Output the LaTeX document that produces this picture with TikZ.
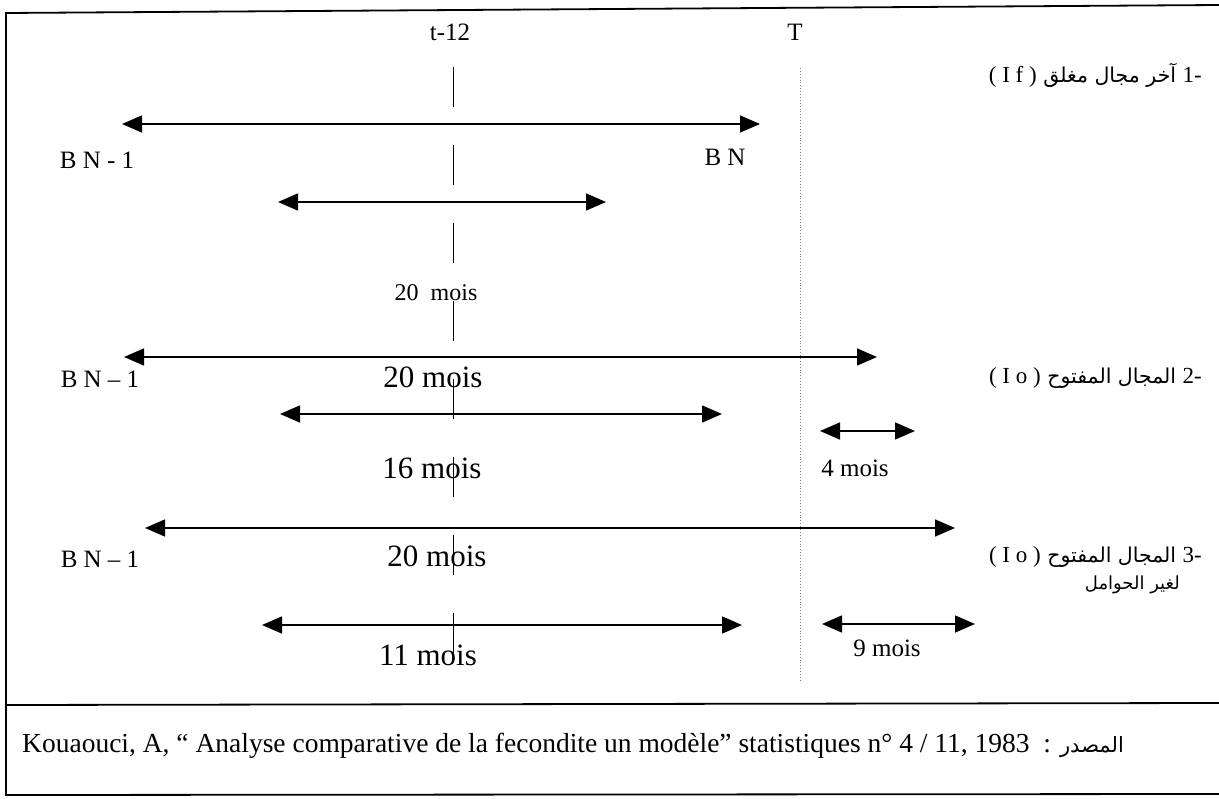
\documentclass[tikz,border=0pt]{standalone}
\usepackage{fontspec}
\setmainfont{Liberation Serif}
\newfontfamily\arabicfont[Script=Arabic]{DejaVu Sans}
\TeXXeTstate=1
\usetikzlibrary{arrows.meta}

\newcommand\lat[1]{{\rmfamily\fontsize{23}{26}\selectfont #1}}

\begin{document}
\begin{tikzpicture}[x=1pt,y=-1pt,
  lbl/.style={inner sep=0pt,font=\fontsize{25}{28}\selectfont},
  big/.style={inner sep=0pt,font=\fontsize{31}{34}\selectfont},
  arlbl/.style={inner sep=0pt,anchor=east,font=\fontsize{20.5}{24}\selectfont},
  srclbl/.style={inner sep=0pt,anchor=west,font=\fontsize{27.5}{30}\selectfont},
  span/.style={{Triangle[length=20pt,width=17pt]}-{Triangle[length=20pt,width=17pt]},line width=1.6pt}]
\useasboundingbox (0,0) rectangle (1219,799);
% frame
\draw[line width=1.8pt] (1219,5) -- (6,13) -- (6,795) -- (1219,794);
\draw[line width=1.8pt] (6,705) -- (1219,703);
% time marks
\node[lbl] (tm) at (450,32) {t-12};
\node[lbl] (tT) at (795,32) {T};
\coordinate (tmtop) at (453,67);
\coordinate (tmbot) at (453,690);
\coordinate (tTtop) at (800,68);
\coordinate (tTbot) at (800,682);
\draw[line width=1pt,dash pattern=on 40pt off 38pt] (tmtop) -- (tmbot);
\draw[line width=0.9pt,gray,dotted] (tTtop) -- (tTbot);
% 1- closed interval
\coordinate (a1l) at (122,124); \coordinate (a1r) at (760,124);
\coordinate (b1l) at (278,202); \coordinate (b1r) at (606,202);
\draw[span] (a1l) -- (a1r);
\draw[span] (b1l) -- (b1r);
\node[lbl] (bn1a) at (97,160) {B N - 1};
\node[lbl] (bna) at (725,157) {B N};
\node[lbl,font=\fontsize{24}{27}\selectfont] (m1) at (436,293) {20\ \ mois};
\node[arlbl] (r1) at (1202,75) {\arabicfont\beginR\beginL\lat{1-}\endL{} آخر مجال مغلق \beginL\lat{( I f )}\endL\endR};
% 2- open interval
\coordinate (a2l) at (124,357); \coordinate (a2r) at (877,357);
\coordinate (b2l) at (280,414); \coordinate (b2r) at (722,414);
\coordinate (c2l) at (820,431); \coordinate (c2r) at (915,431);
\draw[span] (a2l) -- (a2r);
\draw[span] (b2l) -- (b2r);
\draw[span] (c2l) -- (c2r);
\node[lbl] (bn1b) at (100,379) {B N -- 1};
\node[big] (m2) at (433,377) {20 mois};
\node[big] (m3) at (432,468) {16 mois};
\node[lbl] (m4) at (855,468) {4 mois};
\node[arlbl] (r2) at (1202,378) {\arabicfont\beginR\beginL\lat{2-}\endL{} المجال المفتوح \beginL\lat{( I o )}\endL\endR};
% 3- open interval, non pregnant
\coordinate (a3l) at (145,528); \coordinate (a3r) at (955,528);
\coordinate (b3l) at (262,625); \coordinate (b3r) at (742,625);
\coordinate (c3l) at (822,624); \coordinate (c3r) at (975,624);
\draw[span] (a3l) -- (a3r);
\draw[span] (b3l) -- (b3r);
\draw[span] (c3l) -- (c3r);
\node[lbl] (bn1c) at (100,559) {B N -- 1};
\node[big] (m5) at (437,556) {20 mois};
\node[big] (m6) at (428,655) {11 mois};
\node[lbl] (m7) at (887,648) {9 mois};
\node[arlbl] (r3) at (1202,557) {\arabicfont\beginR\beginL\lat{3-}\endL{} المجال المفتوح \beginL\lat{( I o )}\endL\endR};
\node[arlbl,font=\fontsize{18}{22}\selectfont] (r3b) at (1180,585) {\arabicfont\beginR لغير الحوامل\endR};
% source
\node[srclbl] (src) at (22,746) {Kouaouci, A, “ Analyse comparative de la fecondite un modèle” statistiques n° 4 / 11, 1983\ \ : {\fontsize{21}{24}\selectfont\arabicfont\beginR المصدر\endR}};
\end{tikzpicture}
\end{document}
